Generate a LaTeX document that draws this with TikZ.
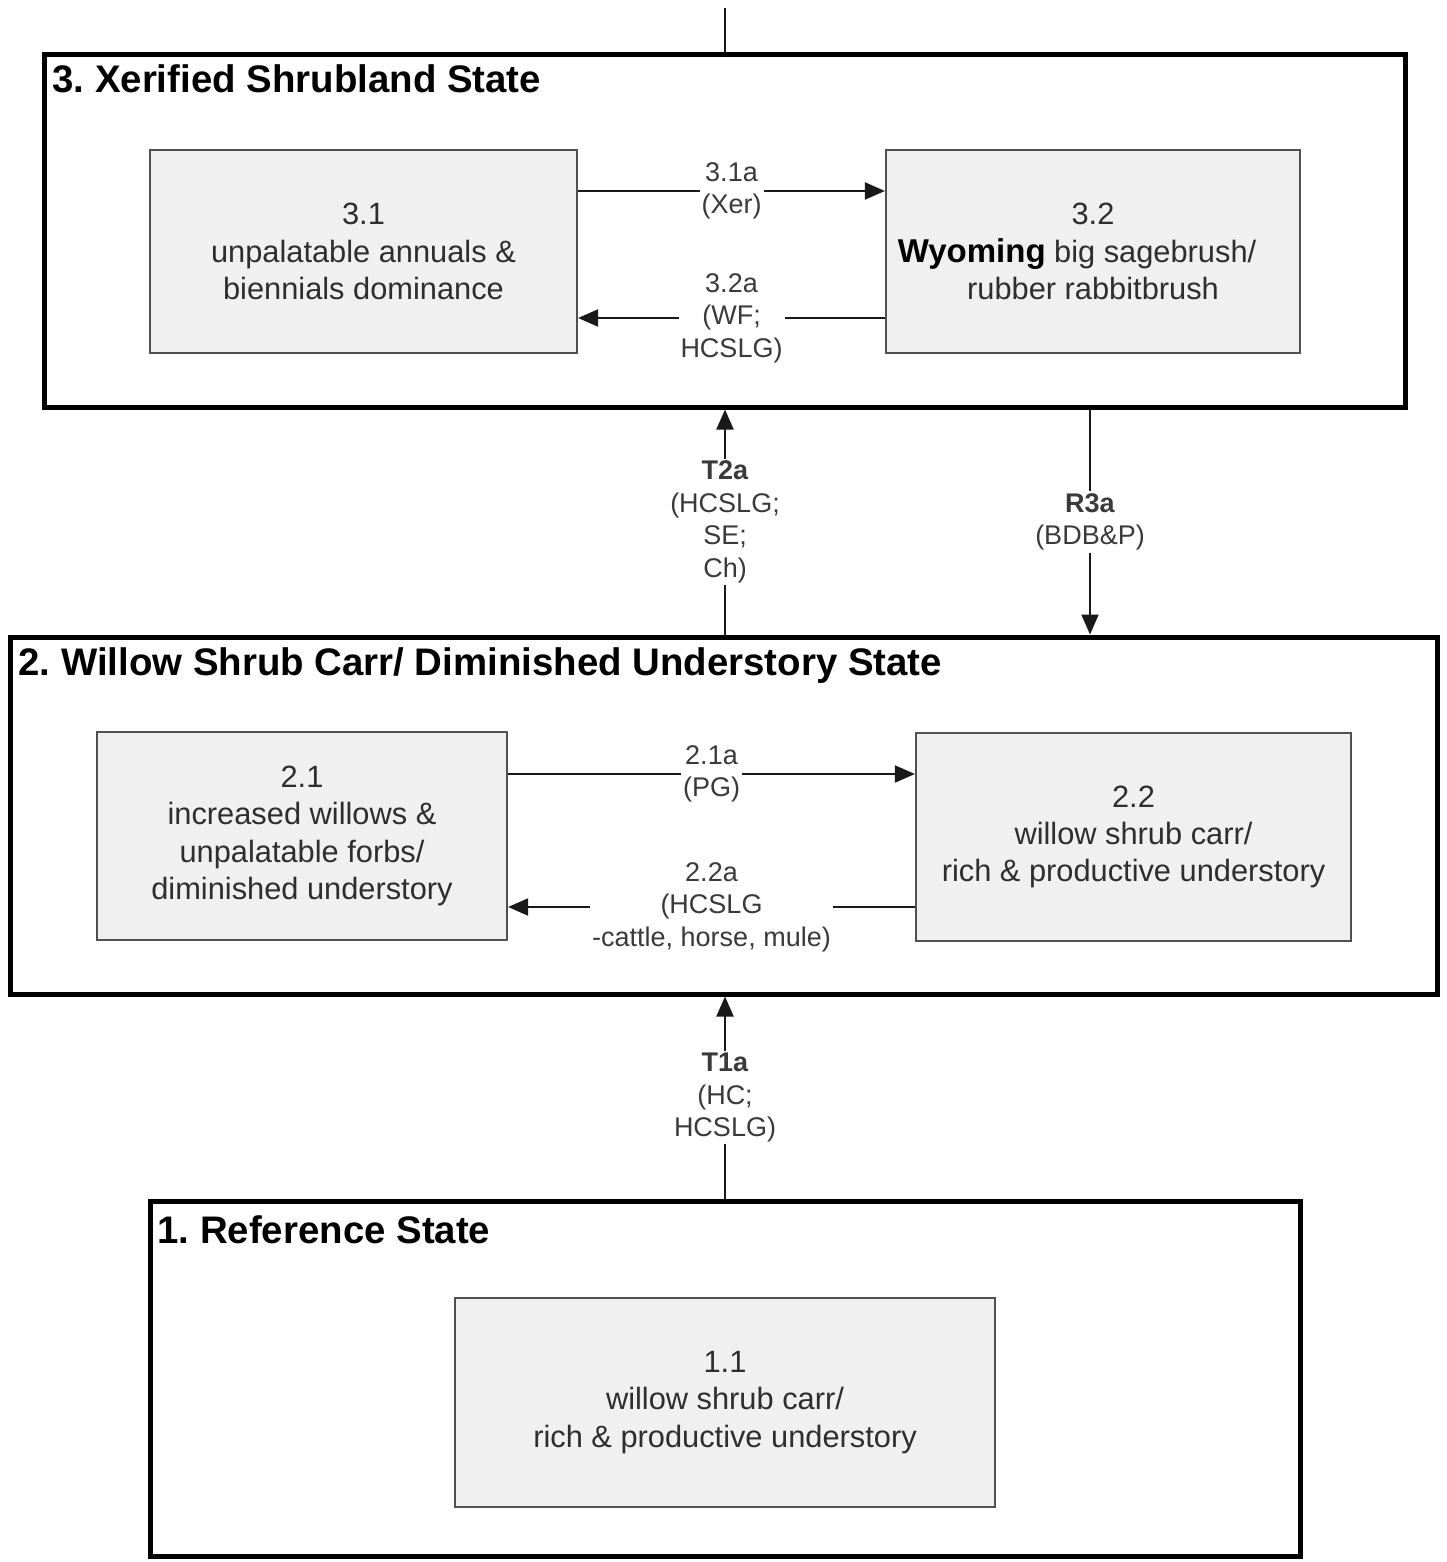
\documentclass[tikz,border=0pt]{standalone}
\usepackage{fontspec}
\setmainfont{Liberation Sans}
\usetikzlibrary{arrows.meta}
\frenchspacing
\definecolor{boxfill}{HTML}{F0F0F0}
\definecolor{boxline}{HTML}{505050}
\definecolor{txt}{HTML}{2E2E2E}
\definecolor{lbl}{HTML}{3A3A3A}
\tikzset{
  statebox/.style={draw=black, line width=2.5pt, fill=white, rectangle, inner sep=0pt},
  phasebox/.style={draw=boxline, line width=1.1pt, fill=boxfill, rectangle, inner sep=0pt, align=center,
    text=txt, font=\fontsize{15.4}{18.6}\selectfont},
  statetitle/.style={anchor=base west, inner sep=0pt, text=black, font=\fontsize{19.2}{23}\selectfont\bfseries},
  lab/.style={fill=white, inner sep=1pt, align=center, text=lbl, font=\fontsize{13.5}{16.3}\selectfont},
  arr/.style={draw=black!90, line width=1pt, -{Triangle[length=10pt,width=8.5pt]}},
  plain/.style={draw=black!90, line width=1pt}
}
\begin{document}
\begin{tikzpicture}[x=0.5pt,y=-0.5pt]
\useasboundingbox[fill=white] (0,0) rectangle (1446,1562);
% state boxes
\node[statebox, minimum width=680.5pt, minimum height=176pt] (s3) at (724.5,231) {};
\node[statebox, minimum width=713.5pt, minimum height=178.5pt] (s2) at (723.5,815.5) {};
\node[statebox, minimum width=575pt, minimum height=177.5pt] (s1) at (725,1378.5) {};
\node[statetitle] (t3) at (52,93) {3. Xerified Shrubland State};
\node[statetitle] (t2) at (18,675) {2. Willow Shrub Carr/ Diminished Understory State};
\node[statetitle] (t1) at (157,1243) {1. Reference State};
% phase boxes
\node[phasebox, minimum width=213.5pt, minimum height=101.5pt] (b31) at (363.5,251.5) {3.1\\unpalatable annuals \&\\biennials dominance};
\node[phasebox, minimum width=207pt, minimum height=101.5pt] (b32) at (1093,251.5) {3.2\\\hspace*{-16pt}{\bfseries\color{black}\fontsize{16.5}{18.6}\selectfont Wyoming} big sagebrush/\\rubber rabbitbrush};
\node[phasebox, minimum width=205pt, minimum height=104pt] (b21) at (302,836) {2.1\\increased willows \&\\unpalatable forbs/\\diminished understory};
\node[phasebox, minimum width=217.5pt, minimum height=104pt] (b22) at (1133.5,837) {2.2\\willow shrub carr/\\rich \& productive understory};
\node[phasebox, minimum width=270pt, minimum height=104.5pt] (b11) at (725,1402.5) {1.1\\willow shrub carr/\\rich \& productive understory};
% top connector
\coordinate (top) at (725,8);
\draw[plain] (top) -- (top |- s3.north);
% transitions within state 3
\draw[arr] (b31.east |- 0,191) -- node[lab] {3.1a\\(Xer)} (b32.west |- 0,191);
\draw[arr] (b32.west |- 0,318) -- node[lab] {3.2a\\(WF;\\HCSLG)} (b31.east |- 0,318);
% transitions within state 2
\draw[arr] (b21.east |- 0,774) -- node[lab] {2.1a\\(PG)} (b22.west |- 0,774);
\draw[arr] (b22.west |- 0,907) -- node[lab] {2.2a\\(HCSLG\\-cattle, horse, mule)} (b21.east |- 0,907);
% between states
\coordinate (x725) at (725,0);
\coordinate (x1090) at (1090,0);
\draw[arr] (x725 |- s2.north) -- node[lab] {\textbf{T2a}\\(HCSLG;\\SE;\\Ch)} (x725 |- s3.south);
\draw[arr] (x1090 |- s3.south) -- node[lab] {\textbf{R3a}\\(BDB\&P)} (x1090 |- s2.north);
\draw[arr] (x725 |- s1.north) -- node[lab] {\textbf{T1a}\\(HC;\\HCSLG)} (x725 |- s2.south);
\end{tikzpicture}
\end{document}
